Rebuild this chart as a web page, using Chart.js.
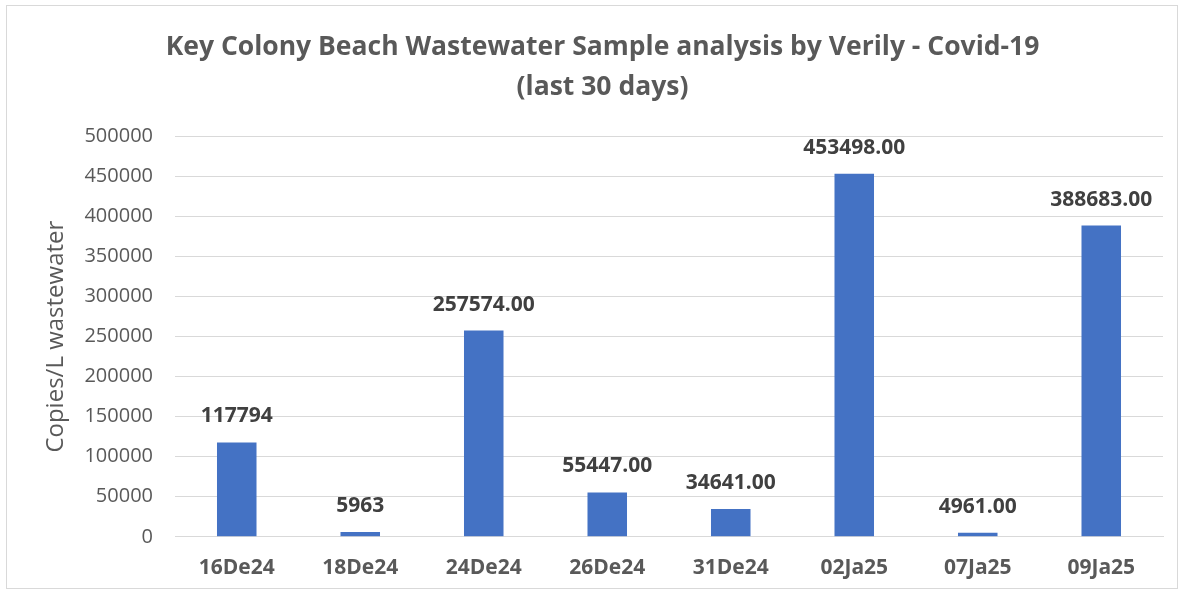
<!DOCTYPE html>
<html>
<head>
<meta charset="utf-8">
<script src="https://cdn.jsdelivr.net/npm/chart.js@4.4.1/dist/chart.umd.min.js"></script>
<style>
  body { margin: 0; background: #fff; }
  #wrap { position: relative; width: 1185px; height: 596px; }
  #frame { position: absolute; left: 6px; top: 5px; width: 1172px; height: 584px; border: 1px solid #d9d9d9; box-sizing: border-box; pointer-events: none; }
</style>
</head>
<body>
<div id="wrap">
  <canvas id="chart" width="1185" height="596"></canvas>
  <div id="frame"></div>
</div>
<script>
// chart data
const dates = ["16De24", "18De24", "24De24", "26De24", "31De24", "02Ja25", "07Ja25", "09Ja25"];
const copies = [117794, 5963, 257574, 55447, 34641, 453498, 4961, 388683];
const valueLabels = ["117794", "5963", "257574.00", "55447.00", "34641.00", "453498.00", "4961.00", "388683.00"];

const fontFamily = "'Open Sans', 'Liberation Sans', sans-serif";

// writes the value text above each bar
const barLabels = {
    id: 'barLabels',
    afterDatasetsDraw(chart) {
        const ctx = chart.ctx;
        const meta = chart.getDatasetMeta(0);
        ctx.save();
        ctx.font = "bold 21px " + fontFamily;
        ctx.fillStyle = '#404040';
        ctx.textAlign = 'center';
        ctx.textBaseline = 'middle';
        meta.data.forEach((bar, i) => {
            ctx.fillText(valueLabels[i], bar.x, bar.y - 26);
        });
        ctx.restore();
    }
};

function displayChart() {
    const ctx = document.getElementById('chart').getContext('2d');
    new Chart(ctx, {
        type: 'bar',
        data: {
            labels: dates,
            datasets: [{
                label: 'Copies/L wastewater',
                data: copies,
                backgroundColor: '#4472C4',
                borderWidth: 0,
                barPercentage: 0.32,
                categoryPercentage: 1.0,
            }]
        },
        options: {
            responsive: false,
            animation: false,
            layout: {
                padding: { left: 42, right: 22, top: 28, bottom: 4 }
            },
            plugins: {
                legend: { display: false },
                tooltip: { enabled: false },
                title: {
                    display: true,
                    text: ['Key Colony Beach Wastewater Sample analysis by Verily - Covid-19', '(last 30 days)'],
                    color: '#595959',
                    font: { family: fontFamily, size: 26.5, weight: 'bold', lineHeight: 1.5 },
                    padding: { top: 0, bottom: 29 }
                }
            },
            scales: {
                x: {
                    grid: { display: false },
                    border: { color: '#d9d9d9' },
                    ticks: {
                        color: '#595959',
                        padding: 11,
                        font: { family: fontFamily, size: 21, weight: 'bold' }
                    }
                },
                y: {
                    min: 0,
                    max: 500000,
                    afterFit(scale) { scale.width = 133; },
                    grid: { color: '#d9d9d9', drawTicks: false },
                    border: { display: false },
                    ticks: {
                        stepSize: 50000,
                        color: '#595959',
                        padding: 22,
                        font: { family: fontFamily, size: 20 },
                        callback: (v) => String(v)
                    },
                    title: {
                        display: true,
                        text: 'Copies/L wastewater',
                        color: '#595959',
                        padding: 0,
                        font: { family: fontFamily, size: 24 }
                    }
                }
            }
        },
        plugins: [barLabels]
    });
}

window.addEventListener('load', displayChart);
</script>
</body>
</html>
